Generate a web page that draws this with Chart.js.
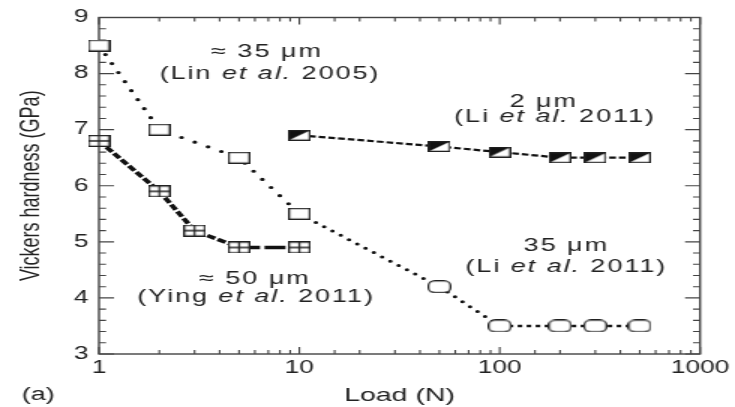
<!DOCTYPE html>
<html>
<head>
<meta charset="utf-8">
<script src="https://cdn.jsdelivr.net/npm/chart.js@4.4.1/dist/chart.umd.min.js"></script>
<style>
  html, body { margin: 0; padding: 0; background: #fff; }
  #chart { display: block; }
</style>
</head>
<body>
<!-- the reference is stretched sideways ~1.5x, so draw at 490 wide and show at 735 -->
<canvas id="chart" width="490" height="407" style="width:735px;height:407px"></canvas>
<script>
const linLoad = [1, 2, 5, 10];
const linHardness = [8.5, 7.0, 6.5, 5.5];

const yingLoad = [1, 2, 3, 5, 10];
const yingHardness = [6.8, 5.9, 5.2, 4.9, 4.9];

const li2Load = [10, 50, 100, 200, 300, 500];
const li2Hardness = [6.9, 6.7, 6.6, 6.5, 6.5, 6.5];

// starts at Lin's last point, the dotted line runs on from there
const li35Load = [10, 50, 100, 200, 300, 500];
const li35Hardness = [5.5, 4.2, 3.5, 3.5, 3.5, 3.5];

const xTickLabels = [1, 10, 100, 1000];
const yTickLabels = [3, 4, 5, 6, 7, 8, 9];

const FONT = '"Liberation Sans", Arial, sans-serif';
const INK = '#222';

// text next to each series, placed in data units
const notes = [
  { x: 6.9, y: 8.38, parts: [['\u2248 35 \u03bcm', false]] },
  { x: 7.14, y: 8.0, parts: [['(Lin ', false], ['et al.', true], [' 2005)', false]] },
  { x: 166, y: 7.5, parts: [['2 \u03bcm', false]] },
  { x: 189, y: 7.22, parts: [['(Li ', false], ['et al.', true], [' 2011)', false]] },
  { x: 215, y: 4.92, parts: [['35 \u03bcm', false]] },
  { x: 215, y: 4.55, parts: [['(Li ', false], ['et al.', true], [' 2011)', false]] },
  { x: 6.0, y: 4.34, parts: [['\u2248 50 \u03bcm', false]] },
  { x: 6.08, y: 4.02, parts: [['(Ying ', false], ['et al.', true], [' 2011)', false]] }
];

function marker(w, h, paint) {
  const c = document.createElement('canvas');
  c.width = w;
  c.height = h;
  const g = c.getContext('2d');
  g.fillStyle = '#fff';
  g.strokeStyle = INK;
  g.lineWidth = 1.3;
  paint(g, 0.65, 0.65, w - 1.3, h - 1.3);
  return c;
}

const openBox = marker(15, 12, (g, x, y, w, h) => {
  g.fillRect(x, y, w, h);
  g.strokeRect(x, y, w, h);
});

const crossBox = marker(15, 12, (g, x, y, w, h) => {
  g.fillRect(x, y, w, h);
  g.strokeRect(x, y, w, h);
  g.beginPath();
  g.moveTo(x + w / 2, y);
  g.lineTo(x + w / 2, y + h);
  g.moveTo(x, y + h / 2);
  g.lineTo(x + w, y + h / 2);
  g.stroke();
});

const halfBox = marker(15, 11, (g, x, y, w, h) => {
  g.fillRect(x, y, w, h);
  g.fillStyle = '#111';
  g.beginPath();
  g.moveTo(x, y);
  g.lineTo(x + w, y);
  g.lineTo(x, y + h);
  g.closePath();
  g.fill();
  g.strokeRect(x, y, w, h);
});

const roundBox = marker(16, 13, (g, x, y, w, h) => {
  g.beginPath();
  g.roundRect(x, y, w, h, 4.5);
  g.fill();
  g.stroke();
});

function points(xs, ys) {
  return xs.map((x, i) => ({ x: x, y: ys[i] }));
}

const isLabel = (list, v) => list.some(t => Math.abs(t - v) < 1e-6);

const frameAndTicks = {
  id: 'frameAndTicks',
  beforeDatasetsDraw(chart) {
    const ctx = chart.ctx;
    const a = chart.chartArea;
    const xs = chart.scales.x;
    const ys = chart.scales.y;
    ctx.save();
    ctx.strokeStyle = '#444';
    ctx.lineWidth = 1.4;
    ctx.strokeRect(a.left, a.top, a.right - a.left, a.bottom - a.top);
    ctx.lineWidth = 1.1;
    ctx.beginPath();
    xs.ticks.forEach(t => {
      const px = xs.getPixelForValue(t.value);
      const major = Math.abs(Math.log10(t.value) - Math.round(Math.log10(t.value))) < 1e-6;
      const len = major ? 7 : 4;
      ctx.moveTo(px, a.bottom);
      ctx.lineTo(px, a.bottom - len);
      ctx.moveTo(px, a.top);
      ctx.lineTo(px, a.top + len);
    });
    ys.ticks.forEach(t => {
      const py = ys.getPixelForValue(t.value);
      const len = isLabel(yTickLabels, t.value) ? 10 : 4.7;
      ctx.moveTo(a.left, py);
      ctx.lineTo(a.left + len, py);
      ctx.moveTo(a.right, py);
      ctx.lineTo(a.right - len, py);
    });
    ctx.stroke();
    ctx.restore();
  },
  afterDraw(chart) {
    const ctx = chart.ctx;
    const xs = chart.scales.x;
    const ys = chart.scales.y;
    ctx.save();
    ctx.fillStyle = INK;
    ctx.textBaseline = 'middle';
    ctx.textAlign = 'left';
    ctx.letterSpacing = '1.3px';
    notes.forEach(n => {
      let total = 0;
      n.parts.forEach(p => {
        ctx.font = (p[1] ? 'italic ' : '') + '18px ' + FONT;
        total += ctx.measureText(p[0]).width;
      });
      let px = xs.getPixelForValue(n.x) - total / 2;
      const py = ys.getPixelForValue(n.y);
      n.parts.forEach(p => {
        ctx.font = (p[1] ? 'italic ' : '') + '18px ' + FONT;
        ctx.fillText(p[0], px, py);
        px += ctx.measureText(p[0]).width;
      });
    });
    ctx.letterSpacing = '0px';
    ctx.font = '18px ' + FONT;
    ctx.textAlign = 'center';
    ctx.fillText('(a)', 25.5, 395);
    ctx.restore();
  }
};

const common = {
  borderColor: '#111',
  showLine: true,
  fill: false,
  tension: 0,
  clip: false,
  pointRadius: 6
};

new Chart(document.getElementById('chart'), {
  type: 'line',
  data: {
    datasets: [
      Object.assign({}, common, {
        label: '\u2248 35 \u03bcm (Lin et al. 2005)',
        data: points(linLoad, linHardness),
        pointStyle: openBox,
        borderWidth: 3.2,
        borderDash: [0, 10],
        borderCapStyle: 'round'
      }),
      Object.assign({}, common, {
        label: '\u2248 50 \u03bcm (Ying et al. 2011)',
        data: points(yingLoad, yingHardness),
        pointStyle: crossBox,
        borderWidth: 3.5,
        borderCapStyle: 'butt',
        segment: {
          borderDash: c => c.p0.parsed.x >= 5 ? [14, 3] : [6, 2]
        }
      }),
      Object.assign({}, common, {
        label: '2 \u03bcm (Li et al. 2011)',
        data: points(li2Load, li2Hardness),
        pointStyle: halfBox,
        borderWidth: 2.2,
        borderDash: [4.5, 2],
        borderCapStyle: 'butt'
      }),
      Object.assign({}, common, {
        label: '35 \u03bcm (Li et al. 2011)',
        data: points(li35Load, li35Hardness),
        pointStyle: roundBox,
        pointRadius: c => c.dataIndex === 0 ? 0 : 6,
        borderWidth: 3,
        borderDash: [0, 7],
        borderCapStyle: 'round',
        segment: {
          borderDash: c => c.p0.parsed.x >= 100 ? [3, 3] : [0, 7],
          borderCapStyle: c => c.p0.parsed.x >= 100 ? 'butt' : 'round',
          borderWidth: c => c.p0.parsed.x >= 100 ? 2.4 : 3
        }
      })
    ]
  },
  options: {
    responsive: false,
    animation: false,
    events: [],
    layout: { padding: { top: 14, right: 23.3, left: 0, bottom: 0 } },
    plugins: {
      legend: { display: false },
      tooltip: { enabled: false }
    },
    scales: {
      x: {
        type: 'logarithmic',
        min: 1,
        max: 1000,
        grid: { display: false, drawTicks: false },
        border: { display: false },
        ticks: {
          autoSkip: false,
          maxRotation: 0,
          padding: 3.5,
          color: INK,
          font: { family: FONT, size: 17.5 },
          callback: v => isLabel(xTickLabels, v) ? String(v) : ''
        },
        title: {
          display: true,
          text: 'Load (N)',
          color: INK,
          font: { family: FONT, size: 19 },
          padding: { top: 0, bottom: 0 }
        },
        afterFit: s => { s.height = 53; }
      },
      y: {
        min: 3,
        max: 9,
        grid: { display: false, drawTicks: false },
        border: { display: false },
        ticks: {
          stepSize: 0.2,
          autoSkip: false,
          padding: 7,
          color: INK,
          font: { family: FONT, size: 17.5 },
          callback: v => isLabel(yTickLabels, v) ? String(v) : ''
        },
        title: {
          display: true,
          text: 'Vickers hardness (GPa)',
          color: INK,
          font: { family: FONT, size: 18 },
          padding: { top: 10, bottom: 0 }
        },
        afterFit: s => { s.width = 66; }
      }
    }
  },
  plugins: [frameAndTicks]
});
</script>
</body>
</html>
